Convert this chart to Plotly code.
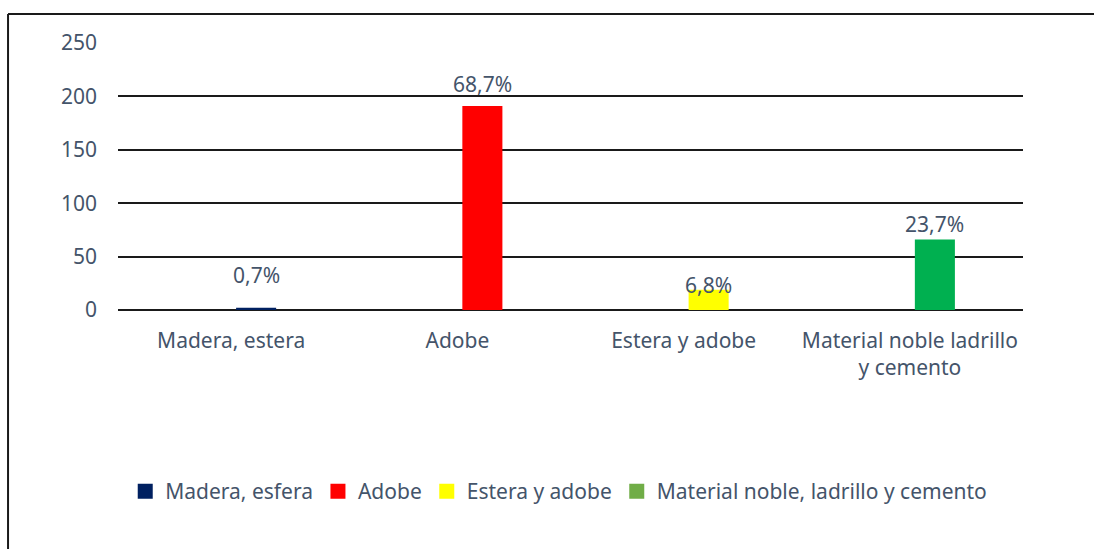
import plotly.graph_objects as go

# Tipo de material de la vivienda (número de viviendas)
categories = ["Madera, estera", "Adobe", "Estera y adobe", "Material noble ladrillo<br>y cemento"]
series_names = ["Madera, esfera", "Adobe", "Estera y adobe", "Material noble, ladrillo y cemento"]
counts = [2, 191, 19, 66]
bar_colors = ["#002060", "#FF0000", "#FFFF00", "#00B050"]
legend_colors = ["#002060", "#FF0000", "#FFFF00", "#70AD47"]
label_shift = [17, 6, -11, 0]

y_ticks = [0, 50, 100, 150, 200, 250]

FONT = "Noto Sans"
TEXT_COLOR = "#44546A"
FS = 21

total = sum(counts)
pct_labels = [f"{100 * c / total:.1f}%".replace(".", ",") for c in counts]

fig = go.Figure()

bar_offset = 0.022
bar_width = 0.177

for i, (name, val, col) in enumerate(zip(series_names, counts, bar_colors)):
    fig.add_trace(go.Bar(
        x=[i], y=[val], name=name,
        marker=dict(color=col, line=dict(width=0)),
        width=bar_width, offset=bar_offset,
        showlegend=False, hoverinfo="skip",
    ))

for name, col in zip(series_names, legend_colors):
    fig.add_trace(go.Scatter(
        x=[None], y=[None], mode="markers", name=name,
        marker=dict(symbol="square", size=15, color=col),
        showlegend=True,
    ))

for i, (val, lab, sh) in enumerate(zip(counts, pct_labels, label_shift)):
    fig.add_annotation(
        x=i + bar_offset + bar_width / 2, y=val, text=lab,
        showarrow=False, yanchor="bottom", yshift=sh,
        font=dict(family=FONT, size=FS, color=TEXT_COLOR),
    )

# outer chart border (top and left edges)
fig.add_shape(type="line", xref="paper", yref="paper",
              x0=-0.1215, x1=1.08, y0=1.1086, y1=1.1086,
              line=dict(color="#1a1a1a", width=2))
fig.add_shape(type="line", xref="paper", yref="paper",
              x0=-0.1215, x1=-0.1215, y0=1.1086, y1=-0.9,
              line=dict(color="#1a1a1a", width=2))

fig.update_layout(
    width=1094, height=549,
    margin=dict(l=118, r=71, t=43, b=239),
    paper_bgcolor="white", plot_bgcolor="white",
    barmode="overlay",
    font=dict(family=FONT, size=FS, color=TEXT_COLOR),
    xaxis=dict(
        range=[-0.5, 3.5], tickmode="array", tickvals=[0, 1, 2, 3],
        ticktext=categories, showgrid=False, zeroline=False,
        showline=False, ticks="", ticklabelstandoff=16,
        tickfont=dict(family=FONT, size=FS, color=TEXT_COLOR),
    ),
    yaxis=dict(
        range=[0, 250], tickmode="array", tickvals=y_ticks,
        showgrid=True, gridcolor="#1a1a1a", gridwidth=1.5,
        zeroline=True, zerolinecolor="#1a1a1a", zerolinewidth=1.5,
        showline=False, ticks="", ticklabelstandoff=20,
        tickfont=dict(family=FONT, size=FS, color=TEXT_COLOR),
    ),
    legend=dict(
        orientation="h", x=0.487, xanchor="center", y=-0.68, yanchor="middle",
        font=dict(family=FONT, size=FS, color=TEXT_COLOR),
        itemwidth=30, tracegroupgap=0,
    ),
)

fig.write_html("out.html")
